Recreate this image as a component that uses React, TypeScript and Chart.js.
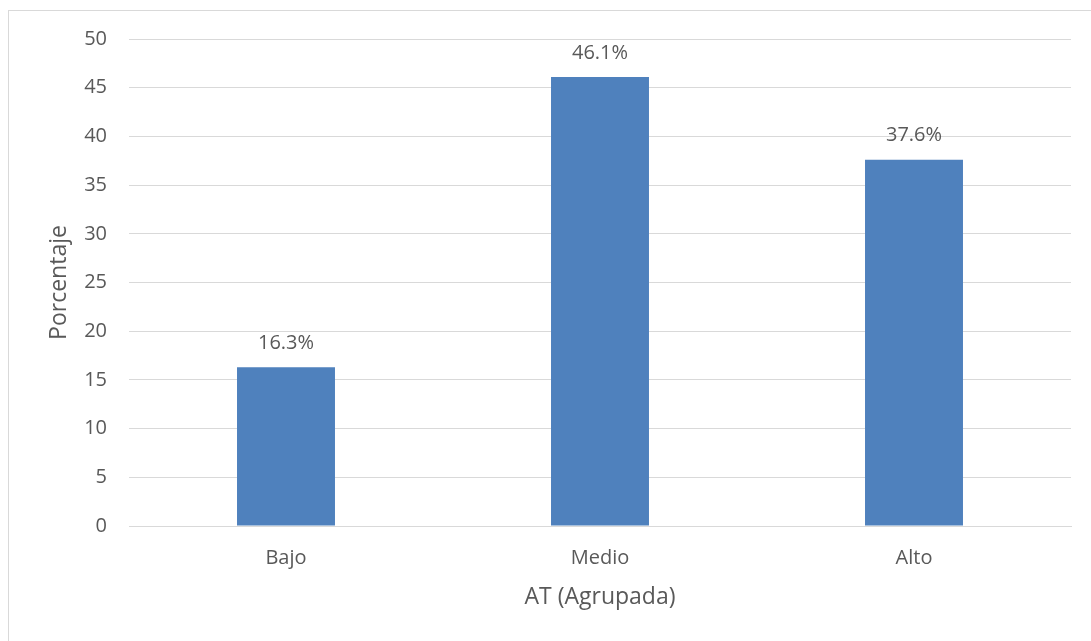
import React, { useEffect, useRef } from "react";
import { Chart, registerables } from "chart.js";

Chart.register(...registerables);

const categories = ["Bajo", "Medio", "Alto"];
const values = [16.3, 46.1, 37.6];
const valueLabels = ["16.3%", "46.1%", "37.6%"];
const xTitle = "AT (Agrupada)";
const yTitle = "Porcentaje";

const FONT = "'Open Sans', 'Liberation Sans', sans-serif";
const TEXT = "#595959";
const GRID = "#d9d9d9";

const labelPlugin = {
  id: "barLabels",
  afterDatasetsDraw(chart: any) {
    const ctx = chart.ctx;
    const meta = chart.getDatasetMeta(0);
    ctx.save();
    ctx.font = `20px ${FONT}`;
    ctx.fillStyle = TEXT;
    ctx.textAlign = "center";
    ctx.textBaseline = "middle";
    meta.data.forEach((bar: any, i: number) => {
      ctx.fillText(valueLabels[i], bar.x, bar.y - 24);
    });
    ctx.restore();
  },
};

export default function App() {
  const ref = useRef<HTMLCanvasElement>(null);
  useEffect(() => {
    if (!ref.current) return;
    const chart = new Chart(ref.current, {
      type: "bar",
      data: {
        labels: categories,
        datasets: [
          {
            data: values,
            backgroundColor: "#4f81bd",
            barPercentage: 0.312,
            categoryPercentage: 1,
          },
        ],
      },
      plugins: [labelPlugin],
      options: {
        animation: false,
        responsive: false,
        layout: { padding: { left: 33, right: 20, top: 18, bottom: 26 } },
        plugins: { legend: { display: false }, tooltip: { enabled: false } },
        scales: {
          x: {
            afterFit: (s: any) => {
              s.height = 89;
            },
            grid: { display: false, drawTicks: false },
            border: { display: true, color: GRID, width: 1 },
            ticks: { color: TEXT, font: { family: FONT, size: 20 }, padding: 20 },
            title: {
              display: true,
              text: xTitle,
              color: TEXT,
              font: { family: FONT, size: 23 },
            },
          },
          y: {
            min: 0,
            max: 50,
            afterFit: (s: any) => {
              s.width = 87;
            },
            grid: { color: GRID, lineWidth: 1, drawTicks: false },
            border: { display: false },
            ticks: {
              stepSize: 5,
              color: TEXT,
              font: { family: FONT, size: 20 },
              padding: 22,
            },
            title: {
              display: true,
              text: yTitle,
              color: TEXT,
              font: { family: FONT, size: 23 },
            },
          },
        },
      },
    });
    return () => chart.destroy();
  }, []);
  return (
    <div
      style={{
        position: "fixed",
        left: 8,
        top: 10,
        width: 1083,
        height: 631,
        borderLeft: "1px solid #d9d9d9",
        borderTop: "1px solid #d9d9d9",
        background: "#fff",
        overflow: "hidden",
      }}
    >
      <canvas
        ref={ref}
        width={1082}
        height={636}
        style={{ display: "block", marginTop: -6 }}
      />
    </div>
  );
}
